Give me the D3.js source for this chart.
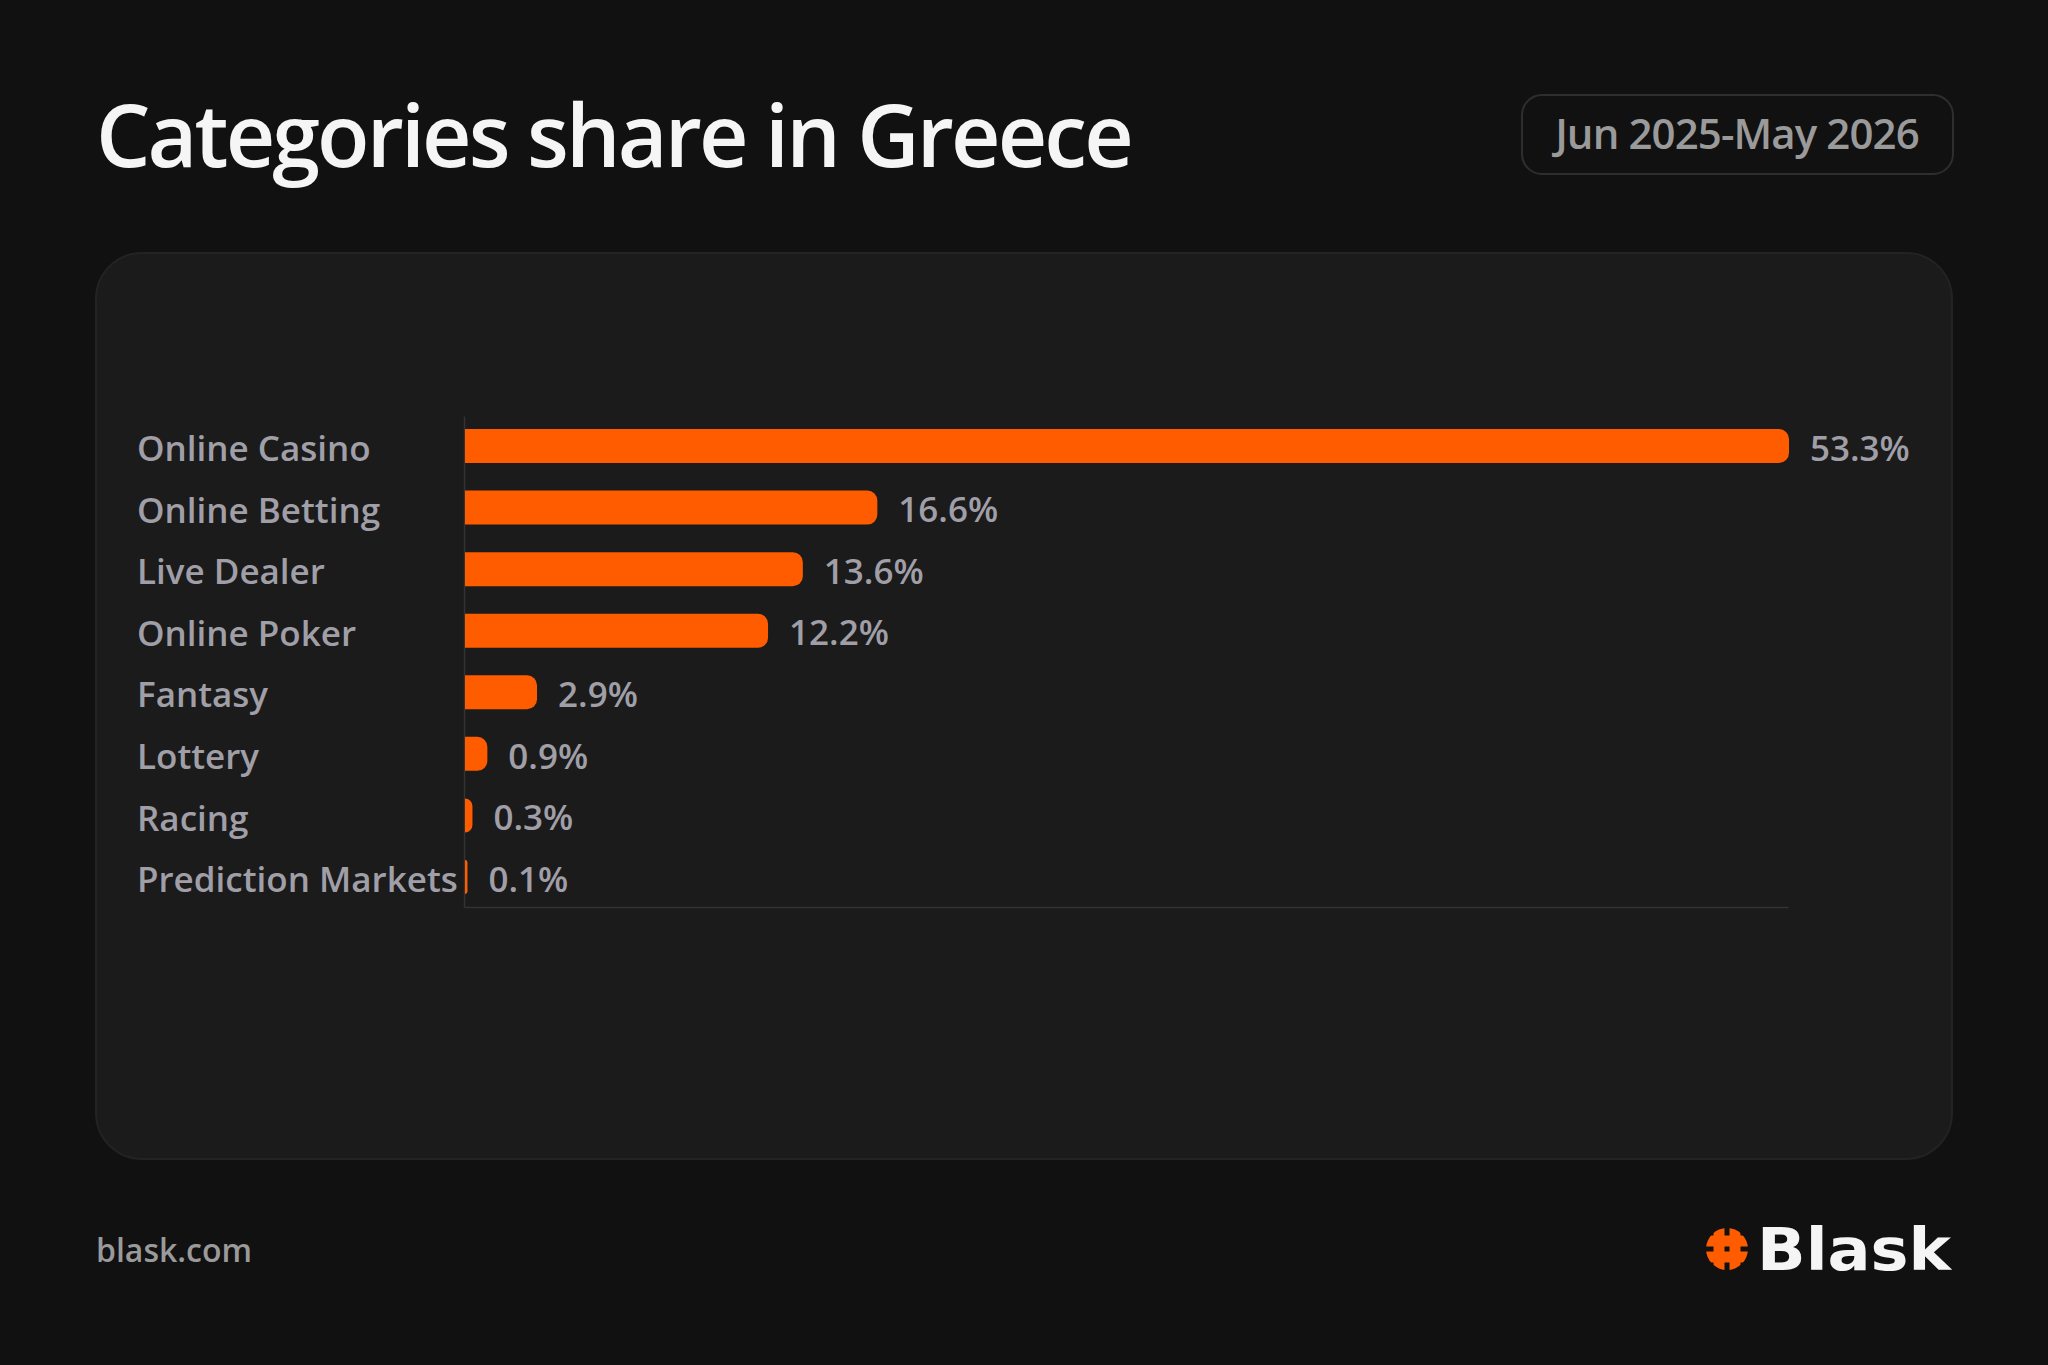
<!DOCTYPE html>
<html>
<head>
<meta charset="utf-8">
<script src="https://cdn.jsdelivr.net/npm/d3@7"></script>
<style>
  body { margin: 0; background: #111111; }
  svg { display: block; }
</style>
</head>
<body>
<div id="chart"></div>
<script>
const categories = ['Online Casino', 'Online Betting', 'Live Dealer', 'Online Poker', 'Fantasy', 'Lottery', 'Racing', 'Prediction Markets'];
const shares = [53.3, 16.6, 13.6, 12.2, 2.9, 0.9, 0.3, 0.1];
const titleText = 'Categories share in Greece';
const periodText = 'Jun 2025-May 2026';

const W = 2048, H = 1365;
const orange = '#ff5c00';
const labelGrey = '#a09fa8';

let margin = { top: 416, left: 464, right: 260, bottom: 458 };

const svg = d3.select('#chart').append('svg')
  .attr('width', W)
  .attr('height', H);

svg.append('rect').attr('width', W).attr('height', H).attr('fill', '#111111');

// title
svg.append('text')
  .attr('x', 96)
  .attr('y', 167)
  .attr('fill', '#f5f5f5')
  .attr('font-family', 'Open Sans')
  .attr('font-weight', 600)
  .attr('font-size', 86)
  .attr('letter-spacing', -2.9)
  .text(titleText);

// period badge
svg.append('rect')
  .attr('x', 1522).attr('y', 95)
  .attr('width', 431).attr('height', 79)
  .attr('rx', 20)
  .attr('fill', '#111111')
  .attr('stroke', '#2e2e2e')
  .attr('stroke-width', 2);

svg.append('text')
  .attr('x', 1737)
  .attr('y', 149)
  .attr('text-anchor', 'middle')
  .attr('fill', '#9a9a9a')
  .attr('font-family', 'Open Sans')
  .attr('font-weight', 600)
  .attr('font-size', 42)
  .attr('letter-spacing', -0.9)
  .text(periodText);

// panel
svg.append('rect')
  .attr('x', 96).attr('y', 253)
  .attr('width', 1856).attr('height', 906)
  .attr('rx', 46)
  .attr('fill', '#1b1b1b')
  .attr('stroke', '#232323')
  .attr('stroke-width', 2);

const chartW = W - margin.left - margin.right;
const chartH = H - margin.top - margin.bottom;

let xScale = d3.scaleLinear().domain([0, d3.max(shares)]).range([0, chartW]);
let yScale = d3.scaleBand().domain(categories).range([0, chartH]).paddingInner(0.448).paddingOuter(0.211);

let vis = svg.append('g')
  .attr('transform', 'translate(' + margin.left + ',' + margin.top + ')');

// axes
let yAxis = d3.axisLeft(yScale).tickSize(0).tickSizeOuter(0).tickPadding(0);
let xAxis = d3.axisBottom(xScale).ticks(0).tickSize(0).tickSizeOuter(0);

let gy = vis.append('g').call(yAxis);
gy.select('.domain').attr('stroke', '#333333').attr('stroke-width', 1.5);
gy.selectAll('text')
  .attr('x', 137 - margin.left)
  .attr('dy', '0.43em')
  .attr('text-anchor', 'start')
  .attr('fill', labelGrey)
  .attr('font-family', 'Open Sans')
  .attr('font-weight', 600)
  .attr('font-size', 35);

let gx = vis.append('g').attr('transform', 'translate(0,' + chartH + ')').call(xAxis);
gx.select('.domain').attr('stroke', '#333333').attr('stroke-width', 1.5);
gx.selectAll('.tick').remove();

// bars: square left end, rounded right end
function barPath(w, h) {
  let r = Math.min(10, w, h / 2);
  return 'M0,0H' + (w - r) +
    'A' + r + ',' + r + ' 0 0 1 ' + w + ',' + r +
    'V' + (h - r) +
    'A' + r + ',' + r + ' 0 0 1 ' + (w - r) + ',' + h +
    'H0Z';
}

vis.selectAll('.bar')
  .data(shares)
  .enter()
  .append('path')
  .attr('class', 'bar')
  .attr('transform', (d, i) => 'translate(1,' + yScale(categories[i]) + ')')
  .attr('d', (d) => barPath(xScale(d), yScale.bandwidth()))
  .attr('fill', orange);

vis.selectAll('.value')
  .data(shares)
  .enter()
  .append('text')
  .attr('class', 'value')
  .attr('x', (d) => xScale(d) + 22)
  .attr('y', (d, i) => yScale(categories[i]) + yScale.bandwidth() / 2)
  .attr('dy', '0.42em')
  .attr('fill', labelGrey)
  .attr('font-family', 'Open Sans')
  .attr('font-weight', 600)
  .attr('font-size', 35)
  .text((d) => d.toFixed(1) + '%');

// footer
svg.append('text')
  .attr('x', 96)
  .attr('y', 1262)
  .attr('fill', '#9a9a9a')
  .attr('font-family', 'Open Sans')
  .attr('font-weight', 600)
  .attr('font-size', 32)
  .text('blask.com');

// logo
let logo = svg.append('g').attr('transform', 'translate(1727,1249)');
logo.append('clipPath').attr('id', 'hashClip')
  .append('circle').attr('r', 21);
let hash = logo.append('g').attr('clip-path', 'url(#hashClip)').attr('fill', orange);
[-8, 8].forEach((o) => {
  hash.append('rect').attr('x', o - 5.5).attr('y', -22).attr('width', 11).attr('height', 44);
  hash.append('rect').attr('x', -22).attr('y', o - 5.5).attr('width', 44).attr('height', 11);
});

svg.append('text')
  .attr('x', 1757)
  .attr('y', 1270)
  .attr('fill', '#f5f5f5')
  .attr('font-family', 'DejaVu Sans')
  .attr('font-weight', 700)
  .attr('font-size', 58)
  .attr('textLength', 194)
  .attr('lengthAdjust', 'spacingAndGlyphs')
  .text('Blask');
</script>
</body>
</html>
